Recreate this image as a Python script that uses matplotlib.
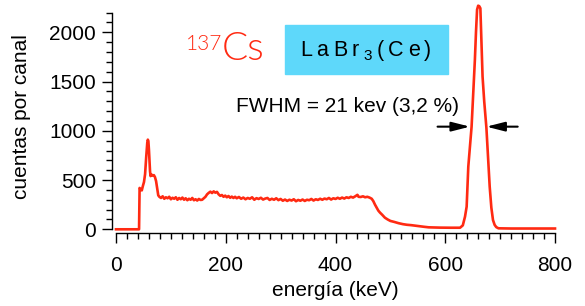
import matplotlib
matplotlib.use("Agg")
import matplotlib.pyplot as plt
from matplotlib.ticker import MultipleLocator
from matplotlib.patches import Rectangle

plt.rcParams['font.family'] = ['Liberation Sans', 'DejaVu Sans']

# espectro LaBr3(Ce) de 137Cs
energia = [0, 42, 43, 45, 47, 49, 51, 53, 55, 57, 58, 59, 60, 61, 62, 63, 65, 67, 69, 71,
           73, 75, 77, 79, 82, 85, 88, 91, 94, 97, 100, 103, 106, 109, 112, 115, 118, 121,
           124, 127, 130, 133, 136, 139, 142, 145, 148, 151, 154, 157, 160, 163, 166, 169,
           172, 175, 178, 181, 184, 187, 190, 193, 196, 199, 202, 205, 208, 211, 214, 217,
           220, 224, 228, 232, 236, 240, 244, 248, 252, 256, 260, 264, 268, 272, 276, 280,
           284, 288, 292, 296, 300, 304, 308, 312, 316, 320, 324, 328, 332, 336, 340, 344,
           348, 352, 356, 360, 364, 368, 372, 376, 380, 384, 388, 392, 396, 400, 404, 408,
           412, 416, 420, 424, 428, 432, 436, 440, 442, 446, 450, 454, 458, 462, 466, 469,
           472, 475, 478, 481, 485, 490, 495, 500, 507, 515, 523, 530, 538, 546, 554, 562,
           570, 580, 590, 600, 610, 620, 627, 632, 636, 639, 642, 645, 648, 651, 654, 656,
           658, 660, 662, 664, 666, 668, 671, 675, 678, 681, 684, 687, 690, 693, 697, 720,
           740, 760, 780, 800]
cuentas = [0, 0, 420, 405, 395, 440, 480, 560, 730, 880, 910, 895, 810, 700, 590, 540, 555, 545, 550, 530,
           490, 420, 345, 330, 318, 335, 310, 325, 315, 330, 305, 320, 310, 325, 300, 318, 305, 322,
           300, 315, 295, 310, 300, 318, 295, 305, 292, 308, 298, 300, 315, 330, 355, 370,
           382, 368, 385, 372, 380, 355, 340, 348, 330, 342, 325, 338, 320, 332, 318, 330,
           315, 328, 310, 322, 305, 318, 310, 325, 300, 316, 308, 320, 302, 312, 318, 298,
           310, 300, 315, 296, 308, 290, 302, 288, 300, 292, 305, 285, 298, 290, 302, 288,
           300, 295, 308, 292, 305, 298, 310, 300, 312, 305, 318, 302, 315, 308, 320, 310,
           322, 312, 325, 318, 330, 322, 335, 350, 330, 328, 335, 325, 330, 322, 310, 285,
           250, 220, 190, 170, 148, 118, 100, 85, 75, 62, 52, 46, 42, 36, 30, 25,
           20, 18, 17, 16, 16, 16, 16, 40, 128, 230, 636, 840, 1042, 1380, 1720, 2000,
           2230, 2270, 2265, 2244, 1900, 1550, 1300, 1030, 730, 432, 220, 94, 45, 22, 10, 8,
           8, 8, 8, 8]

x_ticks = [0, 200, 400, 600, 800]
y_ticks = [0, 500, 1000, 1500, 2000]

# FWHM
fwhm_y = 1042
fwhm_izq = 645
fwhm_der = 675

W, H = 585, 306
fig = plt.figure(figsize=(W / 100, H / 100), dpi=100)
ax = fig.add_axes([116 / W, (H - 229.3) / H, 439 / W, 216.7 / H])

rojo = '#FF2A12'
ax.plot(energia, cuentas, color=rojo, lw=1.9, clip_on=False)

ax.set_xlim(0, 800)
ax.set_ylim(0, 2200)
for s in ['top', 'right']:
    ax.spines[s].set_visible(False)
ax.spines['left'].set_position(('outward', 2.9))
ax.spines['bottom'].set_position(('outward', 2.9))
ax.spines['left'].set_bounds(0, 2200)
ax.spines['bottom'].set_bounds(0, 800)
ax.spines['left'].set_linewidth(1.0)
ax.spines['bottom'].set_linewidth(1.0)

ax.set_xticks(x_ticks)
ax.set_yticks(y_ticks)
ax.xaxis.set_minor_locator(MultipleLocator(20))
ax.yaxis.set_minor_locator(MultipleLocator(100))
ax.tick_params(which='major', length=7.5, width=1.0, labelsize=15, pad=4)
ax.tick_params(which='minor', length=4.3, width=1.0)
ax.tick_params(axis='x', which='major', pad=9)

ax.set_xlabel('energía (keV)', fontsize=15, va='center')
ax.xaxis.set_label_coords(0.5, (229.3 - 290) / 216.7)
ax.set_ylabel('cuentas por canal', fontsize=15, va='center')
ax.yaxis.set_label_coords((22 - 116) / 439, (229.3 - 117) / 216.7)

# flechas FWHM
ax.annotate('', xy=(fwhm_izq, fwhm_y), xytext=(586, fwhm_y),
            arrowprops=dict(arrowstyle='-|>,head_length=1.1,head_width=0.28',
                            mutation_scale=10, color='black', lw=1.5,
                            shrinkA=0, shrinkB=0))
ax.annotate('', xy=(fwhm_der, fwhm_y), xytext=(732, fwhm_y),
            arrowprops=dict(arrowstyle='-|>,head_length=1.1,head_width=0.28',
                            mutation_scale=10, color='black', lw=1.5,
                            shrinkA=0, shrinkB=0))

def fx(x):
    return x / W

def fy(y):
    return 1 - y / H

fig.text(fx(348), fy(106), 'FWHM = 21 kev (3,2 %)', fontsize=15,
         ha='center', va='center')

# 137Cs
fig.text(fx(186), fy(50), '137', fontsize=15, color=rojo, ha='left',
         va='baseline', family=['Lato', 'DejaVu Sans'], fontweight=300)
fig.text(fx(222), fy(60), 'Cs', fontsize=28, color=rojo, ha='left',
         va='baseline', family=['Lato', 'DejaVu Sans'], fontweight=300)

# caja LaBr3(Ce)
fig.patches.append(Rectangle((fx(285), fy(74)), 163 / W, 49 / H,
                             transform=fig.transFigure, color='#5ED8FA',
                             zorder=0))
renderer = fig.canvas.get_renderer()
xpos = 300
for ch, sub in [('L', 0), ('a', 0), ('B', 0), ('r', 0), ('3', 1), ('(', 0),
                ('C', 0), ('e', 0), (')', 0)]:
    size = 11 if sub else 15.5
    yb = 60 if sub else 56
    t = fig.text(fx(xpos), fy(yb), ch, fontsize=size, ha='left', va='baseline')
    w = t.get_window_extent(renderer).width
    xpos += w + 4.5

fig.savefig('out.png', dpi=100)
